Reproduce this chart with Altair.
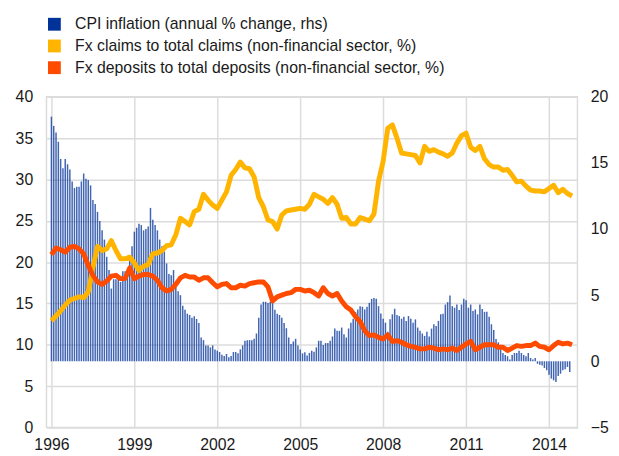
import altair as alt
import pandas as pd

# ---- data ----
series_names = [
    "CPI inflation (annual % change, rhs)",
    "Fx claims to total claims (non-financial sector, %)",
    "Fx deposits to total deposits (non-financial sector, %)",
]
series_colors = ["#003299", "#FFB400", "#FF4B00"]

# monthly CPI inflation (rhs), starting Jan 1996 on the chart's axis
cpi = [
    18.5, 17.8, 17.3, 16.6, 15.3, 14.6, 15.3, 14.9, 14.5, 13.6, 13.1, 13.2,
    13.2, 13.6, 14.2, 13.8, 13.7, 13.3, 12.2, 11.9, 11.3, 10.6, 9.9, 9.2,
    7.9, 6.9, 5.5, 6.2, 6.2, 6.3, 6.0, 6.8, 6.8, 6.9, 7.7, 8.7,
    9.8, 10.1, 10.4, 10.3, 9.9, 10.0, 10.2, 11.6, 10.7, 10.3, 9.9, 9.2,
    8.7, 8.3, 7.4, 6.6, 6.5, 6.9, 5.8, 5.3, 5.0, 4.2, 3.9, 3.6,
    3.5, 3.3, 3.4, 3.2, 2.9, 1.8, 1.6, 1.2, 1.2, 1.05, 1.2, 0.9,
    0.8, 0.7, 0.5, 0.4, 0.55, 0.3, 0.4, 0.7, 0.7, 0.6, 0.9, 1.2,
    1.55, 1.6, 1.6, 1.6, 1.7, 2.1, 3.3, 4.3, 4.5, 4.5, 4.4, 4.5,
    4.4, 3.9, 3.6, 3.5, 3.3, 2.9, 2.5, 1.8, 1.3, 1.5, 1.7, 1.2,
    0.9, 0.6, 0.68, 0.43, 0.63, 0.8, 0.73, 1.05, 1.55, 1.55, 1.23, 1.38,
    1.38, 1.55, 1.88, 2.48, 2.3, 2.3, 2.55, 2.05, 1.8, 2.48, 2.92, 3.22,
    3.72, 3.92, 4.17, 4.12, 3.92, 4.12, 4.42, 4.72, 4.79, 4.72, 4.17, 3.62,
    3.22, 2.92, 2.23, 3.17, 3.55, 3.97, 3.5, 3.42, 3.22, 3.37, 3.05, 3.42,
    3.22, 2.92, 3.17, 2.55, 2.3, 2.1, 1.92, 2.23, 1.88, 2.47, 2.8, 2.67,
    3.05, 3.55, 3.6, 4.29, 4.47, 4.97, 4.17, 4.05, 4.29, 3.87, 4.29, 4.72,
    4.62, 4.05, 4.29, 3.8, 3.92, 3.55, 4.29, 3.95, 3.74, 3.74, 3.37, 2.8,
    2.37, 1.68, 1.43, 1.05, 0.63, 0.48, 0.38, 0.13, 0.48, 0.63, 0.63, 0.8,
    0.63, 0.48, 0.38, 0.63, 0.25, 0.13, 0.25, -0.19, -0.26, -0.31, -0.51, -0.68,
    -1.01, -1.31, -1.44, -1.56, -1.12, -0.94, -0.68, -0.61, -0.43, -0.81,
]

# bi-monthly readings of the two lines (lhs)
fx_claims = [
    12.9, 13.5, 14.1, 14.8, 15.4, 15.6, 15.8, 15.7, 16.4, 19.3, 21.9, 21.4,
    21.6, 22.6, 21.4, 20.4, 20.4, 20.6, 19.9, 19.0, 19.5, 19.7, 21.0, 21.1,
    21.4, 22.0, 22.1, 23.3, 25.3, 24.9, 24.5, 26.1, 26.4, 28.2, 27.5, 26.9,
    26.5, 27.5, 28.5, 30.5, 31.2, 32.1, 31.4, 31.3, 30.3, 27.8, 26.7, 25.1,
    24.9, 24.0, 25.7, 26.2, 26.3, 26.4, 26.5, 26.4, 27.0, 28.2, 27.9, 27.6,
    27.1, 27.8, 27.0, 25.3, 25.4, 24.6, 24.6, 25.4, 25.2, 25.0, 25.8, 29.8,
    32.2, 36.2, 36.6, 35.0, 33.2, 33.1, 33.0, 32.9, 32.0, 34.0, 33.4, 33.6,
    33.3, 33.1, 32.8, 33.2, 34.4, 35.3, 35.6, 33.9, 33.5, 34.0, 32.5, 31.8,
    31.5, 31.5, 31.1, 31.2, 30.5, 29.7, 29.8, 29.2, 28.7, 28.6, 28.6, 28.5,
    28.9, 29.3, 28.4, 28.8, 28.3, 28.0,
]
fx_deposits = [
    20.9, 21.7, 21.5, 21.2, 21.8, 21.9, 21.6, 21.0, 19.6, 18.4, 17.6, 17.3,
    17.7, 18.3, 18.4, 18.0, 18.0, 19.3, 18.0, 18.3, 18.5, 18.5, 18.3, 17.8,
    16.9, 16.5, 16.7, 17.3, 18.1, 18.4, 18.2, 18.2, 17.8, 18.1, 18.1, 17.5,
    17.0, 17.3, 17.4, 16.9, 16.9, 17.2, 17.1, 17.4, 17.5, 17.6, 17.6, 17.0,
    15.3, 15.8, 16.0, 16.2, 16.3, 16.7, 16.7, 16.5, 16.6, 16.3, 15.9, 16.9,
    16.2, 15.9, 16.2, 15.3, 14.6, 14.2, 13.4, 12.8, 11.7, 11.1, 11.2, 10.9,
    10.7, 11.2, 10.4, 10.5, 10.3, 10.0, 9.8, 9.7, 9.5, 9.5, 9.7, 9.6,
    9.4, 9.5, 9.4, 9.6, 9.3, 9.7, 10.1, 10.4, 9.4, 9.7, 10.0, 10.0,
    10.0, 9.7, 9.7, 9.3, 9.6, 9.9, 9.8, 9.9, 9.9, 10.2, 9.8, 9.7,
    9.4, 9.9, 10.3, 10.1, 10.2, 10.0,
]

x_ticks = [1996, 1999, 2002, 2005, 2008, 2011, 2014]
left_ticks = [0, 5, 10, 15, 20, 25, 30, 35, 40]
right_ticks = [-5, 0, 5, 10, 15, 20]

# ---- tables ----
bars_df = pd.DataFrame({
    "t": [1996 + i / 12 for i in range(len(cpi))],
    "v": cpi,
    "s": series_names[0],
})
lines_df = pd.DataFrame({
    "t": [1996 + k / 6 for k in range(len(fx_claims))],
    "claims": fx_claims,
    "deposits": fx_deposits,
})

FONT = "Liberation Sans"
GRID = "#dcdcdc"

xscale = alt.Scale(domain=[1996, 2014.85], nice=False, zero=False)
xaxis = alt.Axis(values=x_ticks, format="d", grid=True, ticks=False, domain=False,
                 labelPadding=9, title=None, labelFlush=False)

left_axis = alt.Axis(orient="left", values=left_ticks, grid=True, ticks=False,
                     domain=False, labelPadding=14, title=None)
left_scale = alt.Scale(domain=[0, 40], nice=False, zero=False)

bars = alt.Chart(bars_df).mark_bar(size=1.5, opacity=0.75).encode(
    x=alt.X("t:Q", scale=xscale, axis=xaxis),
    y=alt.Y("v:Q", scale=alt.Scale(domain=[-5, 20], nice=False),
            axis=alt.Axis(orient="right", values=right_ticks, grid=False, ticks=False,
                          domain=False, labelPadding=13, title=None)),
    y2=alt.datum(0),
    color=alt.Color("s:N",
                    scale=alt.Scale(domain=series_names, range=series_colors),
                    legend=alt.Legend(title=None, orient="none", legendX=0, legendY=-81.5,
                                      symbolType="square", symbolSize=169,
                                      symbolStrokeWidth=0, symbolOpacity=1,
                                      labelFont=FONT, labelFontSize=16,
                                      labelColor="#1a1a1a", labelOffset=13,
                                      rowPadding=6, padding=0, labelLimit=700)),
)

claims_line = alt.Chart(lines_df).mark_line(color=series_colors[1], strokeWidth=5,
                                            strokeJoin="round").encode(
    x=alt.X("t:Q", scale=xscale, axis=xaxis),
    y=alt.Y("claims:Q", scale=left_scale, axis=left_axis),
)
deposits_line = alt.Chart(lines_df).mark_line(color=series_colors[2], strokeWidth=5,
                                              strokeJoin="round").encode(
    x=alt.X("t:Q", scale=xscale, axis=xaxis),
    y=alt.Y("deposits:Q", scale=left_scale, axis=left_axis),
)

lines = alt.layer(claims_line, deposits_line)

chart = alt.layer(bars, lines).resolve_scale(y="independent").properties(
    width=538,
    height=335,
    autosize=alt.AutoSizeParams(type="none"),
    padding={"left": 39, "top": 87, "right": 34, "bottom": 26},
).configure_view(
    stroke=GRID, strokeWidth=1.5
).configure_axis(
    labelFont=FONT, labelFontSize=16, labelColor="#1a1a1a",
    gridColor=GRID, gridWidth=1.5,
)

chart.save("out.html", embed_options={"renderer": "svg", "actions": False})
